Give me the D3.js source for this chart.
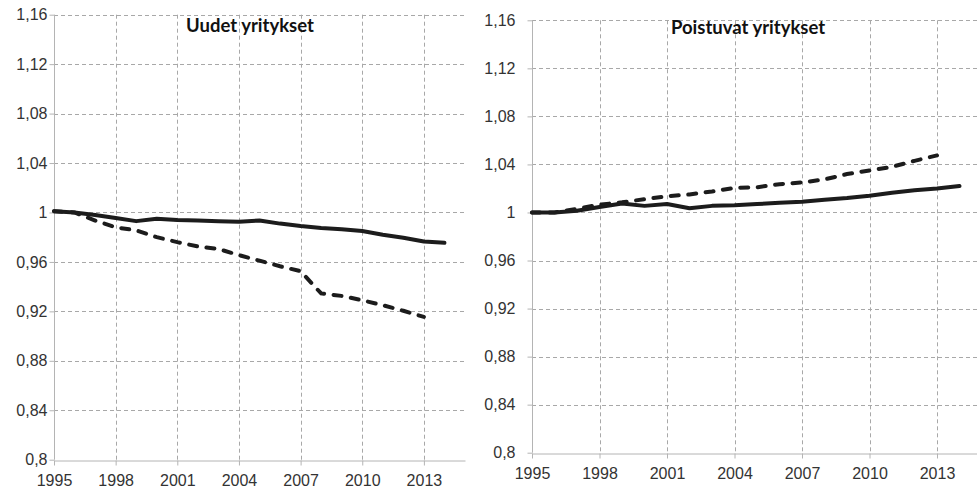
<!DOCTYPE html>
<html>
<head>
<meta charset="utf-8">
<script src="https://cdn.jsdelivr.net/npm/d3@7"></script>
<style>
  body { margin: 0; background: #fff; }
  svg { display: block; font-family: Lato, "Open Sans", sans-serif; }
  .axis path, .axis line { stroke: #b4b4b4; }
  .axis text { fill: #333; font-size: 16px; }
</style>
</head>
<body>
<svg width="977" height="490"></svg>
<script>
// Data (index values, 1995 = 1)
const years = [1995, 1996, 1997, 1998, 1999, 2000, 2001, 2002, 2003, 2004,
               2005, 2006, 2007, 2008, 2009, 2010, 2011, 2012, 2013, 2014];

// Uudet yritykset
const newSolid  = [1.001, 1.000, 0.998, 0.9955, 0.993, 0.995, 0.994, 0.9935, 0.993, 0.9925,
                   0.9935, 0.991, 0.989, 0.9875, 0.9865, 0.985, 0.982, 0.9795, 0.9765, 0.9755];
const newDashed = [1.001, 1.000, 0.9935, 0.988, 0.9855, 0.980, 0.976, 0.9725, 0.9705, 0.9655,
                   0.961, 0.9565, 0.9525, 0.9345, 0.9325, 0.929, 0.925, 0.9205, 0.9155, null];

// Poistuvat yritykset
const exitSolid  = [1.000, 1.000, 1.0015, 1.0045, 1.0075, 1.0055, 1.007, 1.0035, 1.0055, 1.006,
                    1.007, 1.008, 1.009, 1.0105, 1.012, 1.014, 1.0165, 1.0185, 1.020, 1.022];
const exitDashed = [1.000, 1.000, 1.003, 1.0065, 1.0085, 1.011, 1.0135, 1.015, 1.0175, 1.0205,
                    1.021, 1.0235, 1.025, 1.0275, 1.032, 1.035, 1.038, 1.043, 1.0475, null];

const titles = ['Uudet yritykset', 'Poistuvat yritykset'];
const xTicks = [1995, 1998, 2001, 2004, 2007, 2010, 2013];
const yTicks = [0.8, 0.84, 0.88, 0.92, 0.96, 1, 1.04, 1.08, 1.12, 1.16];
const xDomain = [1995, 2015];
const yDomain = [0.8, 1.16];

let svg = d3.select('svg');

// Comma as decimal separator, trailing zeros dropped
function fmt(d)
{
	return String(+d.toFixed(2)).replace('.', ',');
}

// Draws one panel: grid, axes, both lines, title
function drawPanel(p, title, solid, dashed)
{
	let x = d3.scaleLinear().domain(xDomain).range([p.left, p.right]);
	let y = d3.scaleLinear().domain(yDomain).range([p.bottom, p.top]);
	let g = svg.append('g');

	// grid
	g.append('g').selectAll('line')
		.data(yTicks.slice(1))
		.join('line')
		.attr('x1', p.left).attr('x2', p.right)
		.attr('y1', d => Math.round(y(d)) + 0.5).attr('y2', d => Math.round(y(d)) + 0.5)
		.attr('stroke', '#a8a8a8')
		.attr('stroke-dasharray', '4,3');
	g.append('g').selectAll('line')
		.data(xTicks.slice(1))
		.join('line')
		.attr('x1', d => Math.round(x(d)) + 0.5).attr('x2', d => Math.round(x(d)) + 0.5)
		.attr('y1', p.top).attr('y2', p.bottom)
		.attr('stroke', '#a8a8a8')
		.attr('stroke-dasharray', '4,3');

	// axes
	g.append('g')
		.attr('class', 'axis')
		.attr('transform', 'translate(' + (Math.round(p.left) + 0.5) + ',0)')
		.call(d3.axisLeft(y).tickValues(yTicks).tickFormat(fmt).tickSizeInner(5).tickSizeOuter(0).tickPadding(p.yPad))
		.call(a => a.select('.domain').attr('d', 'M0,' + p.top + 'V' + p.bottom));
	g.append('g')
		.attr('class', 'axis')
		.attr('transform', 'translate(0,' + (Math.round(p.bottom) + 0.5) + ')')
		.call(d3.axisBottom(x).tickValues(xTicks).tickFormat(d3.format('d')).tickSizeInner(5).tickSizeOuter(0).tickPadding(9));

	// lines
	let line = d3.line()
		.defined(d => d.v != null)
		.x(d => x(d.year))
		.y(d => y(d.v));

	g.append('path')
		.datum(years.map((yr, i) => ({year: yr, v: dashed[i]})))
		.attr('d', line)
		.attr('fill', 'none')
		.attr('stroke', '#1c1c1c')
		.attr('stroke-width', 4)
		.attr('stroke-linecap', 'round')
		.attr('stroke-dasharray', '8,9.5');
	g.append('path')
		.datum(years.map((yr, i) => ({year: yr, v: solid[i]})))
		.attr('d', line)
		.attr('fill', 'none')
		.attr('stroke', '#1c1c1c')
		.attr('stroke-width', 4)
		.attr('stroke-linejoin', 'round')
		.attr('stroke-linecap', 'round');

	// title
	g.append('text')
		.attr('x', p.titleX)
		.attr('y', p.titleY)
		.attr('text-anchor', 'middle')
		.attr('font-size', 18.5)
		.attr('font-weight', 'bold')
		.attr('fill', '#111')
		.text(title);
}

drawPanel({left: 54, right: 465, top: 14.7, bottom: 459.7, yPad: 2, titleX: 250, titleY: 32},
	titles[0], newSolid, newDashed);
drawPanel({left: 532, right: 982, top: 20.3, bottom: 452.7, yPad: 12, titleX: 748, titleY: 33.5},
	titles[1], exitSolid, exitDashed);
</script>
</body>
</html>
